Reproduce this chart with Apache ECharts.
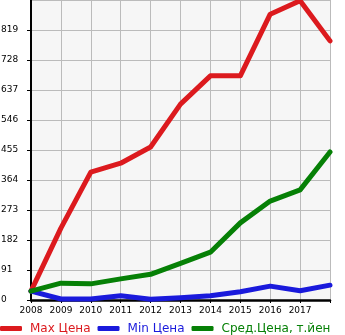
<!DOCTYPE html>
<html>
<head>
<meta charset="utf-8">
<script src="https://cdn.jsdelivr.net/npm/echarts@6/dist/echarts.min.js"></script>
<style>
html,body{margin:0;padding:0;background:#fff;}
#chart{width:345px;height:335px;}
</style>
</head>
<body>
<div id="chart"></div>
<script>
var categories = ['2008','2009','2010','2011','2012','2013','2014','2015','2016','2017','2018'];
var maxPrice = [27, 218, 388, 415, 464, 594, 680, 680, 867, 908, 786];
var minPrice = [27, 3, 3, 13, 2, 7, 13, 25, 42, 28, 45];
var avgPrice = [27, 51, 49, 64, 78, 111, 145, 234, 300, 334, 449];
var yTicks = [0, 91, 182, 273, 364, 455, 546, 637, 728, 819, 910];
var seriesNames = ['Max Цена', 'Min Цена', 'Сред.Цена, т.йен'];
var colors = ['#dc1a1e', '#1a1adc', '#068006'];

var chart = echarts.init(document.getElementById('chart'), null, {renderer: 'canvas'});
var font = 'DejaVu Sans';
function mk(name, data, color) {
  return {
    name: name, type: 'line', data: data, symbol: 'none', smooth: false,
    lineStyle: {color: color, width: 5, cap: 'round', join: 'round'},
    itemStyle: {color: color}, animation: false
  };
}
chart.setOption({
  animation: false,
  grid: {left: 31, right: 15, top: 0, bottom: 35, show: true, backgroundColor: '#f6f6f6', borderWidth: 0,
         containLabel: false, outerBoundsMode: 'none'},
  legend: {
    left: 0, top: 322.5, width: 1000, itemWidth: 22, itemHeight: 5, itemGap: 7,
    icon: 'roundRect',
    data: seriesNames.map(function(n, i){ return {name: n, textStyle: {color: colors[i]}}; }),
    textStyle: {fontFamily: font, fontSize: 12, padding: [0,0,0,3]},
    padding: 0
  },
  xAxis: {
    type: 'category', data: categories, boundaryGap: false,
    axisLine: {lineStyle: {color: '#000', width: 2.5}},
    axisTick: {show: true, length: 3, lineStyle: {color: '#000', width: 1}},
    axisLabel: {
      color: '#000', fontFamily: font, fontSize: 9, margin: 6, interval: 0,
      formatter: function(v, i){ return i === categories.length - 1 ? '' : v; }
    },
    splitLine: {show: true, lineStyle: {color: '#bbbbbb', width: 1}}
  },
  yAxis: {
    type: 'value', min: yTicks[0], max: yTicks[yTicks.length-1], interval: yTicks[1] - yTicks[0],
    axisLine: {show: true, lineStyle: {color: '#000', width: 2}},
    axisTick: {show: true, length: 4, lineStyle: {color: '#000', width: 1}},
    axisLabel: {color: '#000', fontFamily: font, fontSize: 9, align: 'left', margin: 30, showMaxLabel: false, padding: [0,0,7,0]},
    splitLine: {show: true, lineStyle: {color: '#bbbbbb', width: 1}}
  },
  series: [
    mk(seriesNames[0], maxPrice, colors[0]),
    mk(seriesNames[1], minPrice, colors[1]),
    mk(seriesNames[2], avgPrice, colors[2])
  ]
});
</script>
</body>
</html>
